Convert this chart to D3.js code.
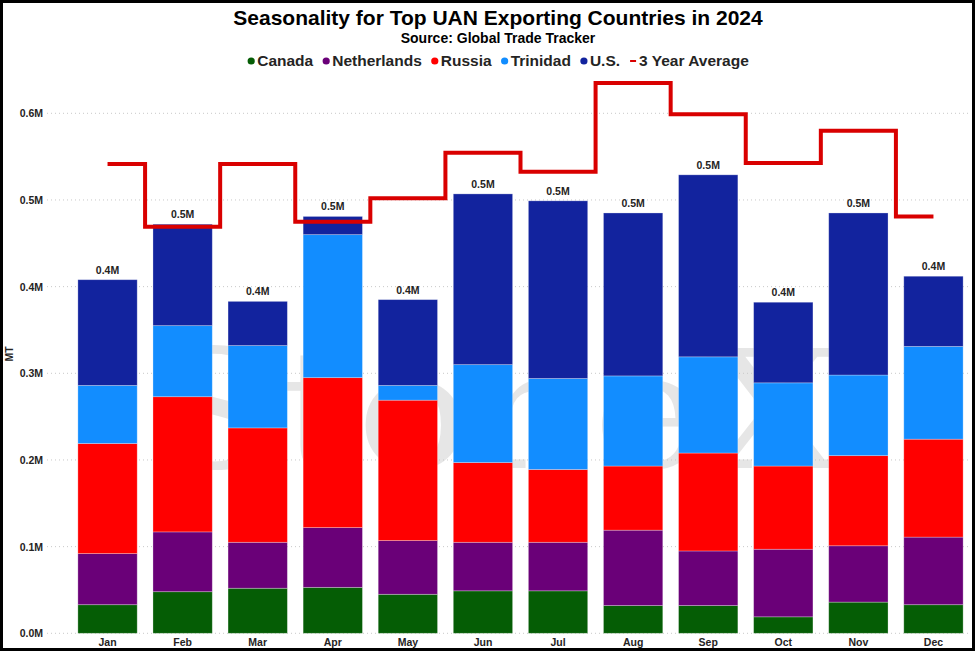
<!DOCTYPE html>
<html>
<head>
<meta charset="utf-8">
<script src="https://cdn.jsdelivr.net/npm/d3@7"></script>
<style>
  html, body { margin: 0; padding: 0; background: #fff; }
  svg { display: block; font-family: "Liberation Sans", Arial, sans-serif; }
</style>
</head>
<body>
<div id="viz"></div>
<script>
// values in million MT
const months = ["Jan","Feb","Mar","Apr","May","Jun","Jul","Aug","Sep","Oct","Nov","Dec"];
const canada      = [0.033, 0.048, 0.052, 0.053, 0.045, 0.049, 0.049, 0.032, 0.032, 0.019, 0.036, 0.033];
const netherlands = [0.059, 0.069, 0.053, 0.069, 0.062, 0.056, 0.056, 0.087, 0.063, 0.078, 0.065, 0.078];
const russia      = [0.127, 0.156, 0.132, 0.173, 0.162, 0.092, 0.084, 0.074, 0.113, 0.096, 0.104, 0.113];
const trinidad    = [0.067, 0.082, 0.095, 0.165, 0.017, 0.113, 0.105, 0.104, 0.111, 0.096, 0.093, 0.107];
const us          = [0.122, 0.117, 0.051, 0.021, 0.099, 0.197, 0.205, 0.188, 0.210, 0.093, 0.187, 0.081];
const threeYearAvg = [0.5415, 0.469, 0.5415, 0.475, 0.502, 0.5546, 0.5327, 0.635, 0.599, 0.5426, 0.58, 0.481];
const yTicks = [0, 0.1, 0.2, 0.3, 0.4, 0.5, 0.6];

const seriesNames = ["Canada", "Netherlands", "Russia", "Trinidad", "U.S."];
const seriesColors = ["#055d05", "#6a0078", "#ff0000", "#128dff", "#12239e"];
const lineColor = "#d90000";

const width = 979;
const height = 652;

const rows = months.map((m, i) => ({
  month: m,
  "Canada": canada[i],
  "Netherlands": netherlands[i],
  "Russia": russia[i],
  "Trinidad": trinidad[i],
  "U.S.": us[i]
}));

const svg = d3.select("#viz")
  .append("svg")
    .attr("width", width)
    .attr("height", height);

svg.append("rect")
  .attr("width", width).attr("height", height)
  .attr("fill", "#fff");

const x = d3.scaleBand()
  .domain(months)
  .range([70, 971])
  .paddingInner(0.21)
  .paddingOuter(0.105);

const y = d3.scaleLinear()
  .domain([0, 0.6])
  .range([633.3, 113.3]);

// faint logo watermark behind the bars
svg.append("text")
  .attr("x", 495).attr("y", 468)
  .attr("text-anchor", "middle")
  .attr("font-family", "DejaVu Serif, serif")
  .attr("font-size", 165)
  .attr("fill", "#e6e6e6")
  .attr("textLength", 690)
  .attr("lengthAdjust", "spacingAndGlyphs")
  .text("StoneX");

// grid + y labels
const yAxis = svg.append("g")
  .call(d3.axisLeft(y).tickValues(yTicks).tickSize(0).tickPadding(0)
    .tickFormat(d => d3.format(".1f")(d) + "M"))
  .attr("transform", "translate(43,0)");
yAxis.select(".domain").remove();
yAxis.selectAll("text")
  .attr("font-family", "Liberation Sans, Arial, sans-serif")
  .attr("font-size", 10.5)
  .attr("font-weight", "bold")
  .attr("fill", "#252423");

svg.append("g")
  .selectAll("line")
  .data(yTicks)
  .join("line")
    .attr("x1", 47).attr("x2", 971)
    .attr("y1", d => y(d)).attr("y2", d => y(d))
    .attr("stroke", "#c8c8c8")
    .attr("stroke-dasharray", "1,3");

// x labels
const xAxis = svg.append("g")
  .attr("transform", "translate(0,634)")
  .call(d3.axisBottom(x).tickSize(0).tickPadding(5));
xAxis.select(".domain").remove();
xAxis.selectAll("text")
  .attr("font-family", "Liberation Sans, Arial, sans-serif")
  .attr("font-size", 10.5)
  .attr("font-weight", "bold")
  .attr("fill", "#252423");

svg.append("text")
  .attr("transform", "translate(13,354) rotate(-90)")
  .attr("text-anchor", "middle")
  .attr("font-size", 10.5)
  .attr("font-weight", "bold")
  .attr("fill", "#252423")
  .text("MT");

// stacked bars
const stacked = d3.stack().keys(seriesNames)(rows);

svg.append("g")
  .selectAll("g")
  .data(stacked)
  .join("g")
    .attr("fill", (d, i) => seriesColors[i])
  .selectAll("rect")
  .data(d => d)
  .join("rect")
    .attr("x", d => x(d.data.month))
    .attr("y", d => y(d[1]))
    .attr("width", x.bandwidth())
    .attr("height", d => y(d[0]) - y(d[1]))
    .attr("stroke", "#ffffff")
    .attr("stroke-opacity", 0.35)
    .attr("stroke-width", 0.8);

// totals on top
const totals = rows.map(r => ({ month: r.month, total: d3.sum(seriesNames, k => r[k]) }));
svg.append("g")
  .selectAll("text")
  .data(totals)
  .join("text")
    .attr("x", d => x(d.month) + x.bandwidth() / 2)
    .attr("y", d => y(d.total) - 6)
    .attr("text-anchor", "middle")
    .attr("font-size", 10.5)
    .attr("font-weight", "bold")
    .attr("fill", "#252423")
    .text(d => d3.format(".1f")(d.total) + "M");

// 3 year average step line
const line = d3.line()
  .x((d, i) => x(months[i]) + x.bandwidth() / 2)
  .y(d => y(d))
  .curve(d3.curveStep);

svg.append("path")
  .datum(threeYearAvg)
  .attr("d", line)
  .attr("fill", "none")
  .attr("stroke", lineColor)
  .attr("stroke-width", 4);

// title block
svg.append("text")
  .attr("x", 498).attr("y", 25)
  .attr("text-anchor", "middle")
  .attr("font-size", 21)
  .attr("font-weight", "bold")
  .attr("fill", "#000")
  .text("Seasonality for Top UAN Exporting Countries in 2024");

svg.append("text")
  .attr("x", 498).attr("y", 43)
  .attr("text-anchor", "middle")
  .attr("font-size", 14)
  .attr("font-weight", "bold")
  .attr("fill", "#000")
  .text("Source: Global Trade Tracker");

// legend, laid out from measured text widths
const legendItems = seriesNames.map((n, i) => ({ name: n, color: seriesColors[i], type: "dot" }))
  .concat([{ name: "3 Year Average", color: lineColor, type: "line" }]);

const legend = svg.append("g");
let lx = 0;
legendItems.forEach(item => {
  const g = legend.append("g").attr("transform", `translate(${lx},0)`);
  if (item.type === "dot") {
    g.append("circle").attr("cx", 4).attr("cy", -5).attr("r", 3.6).attr("fill", item.color);
  } else {
    g.append("line").attr("x1", 1).attr("x2", 7).attr("y1", -5).attr("y2", -5)
      .attr("stroke", item.color).attr("stroke-width", 2);
  }
  const t = g.append("text")
    .attr("x", 10)
    .attr("font-size", 15.5)
    .attr("font-weight", "bold")
    .attr("fill", "#252423")
    .text(item.name);
  lx += 10 + t.node().getComputedTextLength() + 9;
});
const legendWidth = lx - 9;
legend.attr("transform", `translate(${498 - legendWidth / 2},66)`);

// outer frame
svg.append("rect")
  .attr("x", 1.5).attr("y", 1.5)
  .attr("width", 972).attr("height", 648)
  .attr("fill", "none")
  .attr("stroke", "#000")
  .attr("stroke-width", 3);
</script>
</body>
</html>
